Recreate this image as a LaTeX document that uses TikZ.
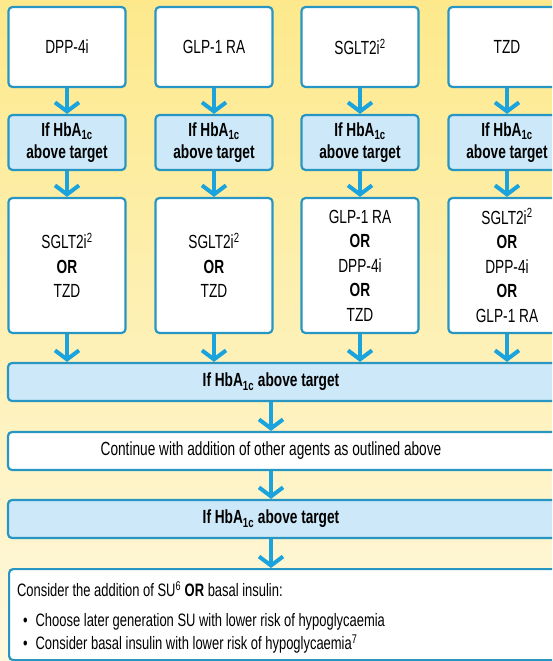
\documentclass[tikz,border=0pt]{standalone}
\usepackage{fontspec}
\setmainfont{Liberation Sans}[FakeStretch=0.72]
\usepackage{tikz}
\usetikzlibrary{arrows.meta}
\definecolor{bgtop}{RGB}{253,233,140}
\definecolor{bgmid}{RGB}{254,244,200}
\definecolor{bgbot}{RGB}{254,248,222}
\definecolor{boxline}{RGB}{40,150,195}
\definecolor{askblock}{RGB}{205,232,248}
\definecolor{flowarrow}{RGB}{27,163,222}

\begin{document}
\begin{tikzpicture}[x=1pt, y=-1pt,
	drugbox/.style={draw=boxline, line width=2.2pt, rounded corners=4pt, fill=white,
		minimum width=\cw, inner sep=0pt, align=center,
		font=\fontsize{19}{24.5}\selectfont},
	askbox/.style={drugbox, fill=askblock, font=\bfseries\fontsize{19}{22}\selectfont},
	flow/.style={draw=flowarrow, line width=4pt, -{Straight Barb[length=9pt, width=24pt]}}]
			\def\cw{117}
			\def\ww{558}

			% page and background
			\useasboundingbox (0,0) rectangle (552,661);
			\clip (0,0) rectangle (552,661);
			\shade[top color=bgtop, middle color=bgmid, bottom color=bgbot] (0,0) rectangle (552,661);

			% First added agent
			\node[drugbox, minimum height=80] (d1) at (67,  47) {DPP-4i};
			\node[drugbox, minimum height=80] (d2) at (214, 47) {GLP-1 RA};
			\node[drugbox, minimum height=80] (d3) at (360, 47) {SGLT2i\textsuperscript{2}};
			\node[drugbox, minimum height=80] (d4) at (507, 47) {TZD};

			% Check of HbA1c
			\node[askbox, minimum height=55] (h1) at (67,  142.5) {If HbA\textsubscript{1c}\\above target};
			\node[askbox, minimum height=55] (h2) at (214, 142.5) {If HbA\textsubscript{1c}\\above target};
			\node[askbox, minimum height=55] (h3) at (360, 142.5) {If HbA\textsubscript{1c}\\above target};
			\node[askbox, minimum height=55] (h4) at (507, 142.5) {If HbA\textsubscript{1c}\\above target};

			% Second added agent
			\node[drugbox, minimum height=135] (r1) at (67,  265.5) {SGLT2i\textsuperscript{2}\\\textbf{OR}\\TZD};
			\node[drugbox, minimum height=135] (r2) at (214, 265.5) {SGLT2i\textsuperscript{2}\\\textbf{OR}\\TZD};
			\node[drugbox, minimum height=135] (r3) at (360, 265.5) {GLP-1 RA\\\textbf{OR}\\DPP-4i\\\textbf{OR}\\TZD};
			\node[drugbox, minimum height=135] (r4) at (507, 265.5) {SGLT2i\textsuperscript{2}\\\textbf{OR}\\DPP-4i\\\textbf{OR}\\GLP-1 RA};

			% Full width rows
			\node[askbox, minimum width=\ww, minimum height=38,
				label={[name=w1t, xshift=-16pt, font=\bfseries\fontsize{19}{22}\selectfont]center:If HbA\textsubscript{1c} above target}]
				(w1) at (287, 382) {};
			\node[drugbox, minimum width=\ww, minimum height=38,
				label={[name=c1t, xshift=-16pt, font=\fontsize{19}{22}\selectfont]center:Continue with addition of other agents as outlined above}]
				(c1) at (287, 451) {};
			\node[askbox, minimum width=\ww, minimum height=38,
				label={[name=w2t, xshift=-16pt, font=\bfseries\fontsize{19}{22}\selectfont]center:If HbA\textsubscript{1c} above target}]
				(w2) at (287, 519) {};
			\node[drugbox, anchor=north west, minimum width=\ww, minimum height=91,
				text width=542, inner xsep=8pt, align=flush left, font=\fontsize{18}{23}\selectfont]
				(f1) at (8, 568) {\rule{0pt}{21pt}Consider the addition of SU\textsuperscript{6} \textbf{OR} basal insulin:\\[7pt]
				\hspace*{6pt}\textbullet\hspace{8pt}Choose later generation SU with lower risk of hypoglycaemia\\
				\hspace*{6pt}\textbullet\hspace{8pt}Consider basal insulin with lower risk of hypoglycaemia\textsuperscript{7}};

			% Arrows
			\draw[flow] (d1) -- (h1);
			\draw[flow] (d2) -- (h2);
			\draw[flow] (d3) -- (h3);
			\draw[flow] (d4) -- (h4);
			\draw[flow] (h1) -- (r1);
			\draw[flow] (h2) -- (r2);
			\draw[flow] (h3) -- (r3);
			\draw[flow] (h4) -- (r4);
			\draw[flow] (r1) -- (r1 |- w1.north);
			\draw[flow] (r2) -- (r2 |- w1.north);
			\draw[flow] (r3) -- (r3 |- w1.north);
			\draw[flow] (r4) -- (r4 |- w1.north);
			\draw[flow] (w1t |- w1.south) -- (w1t |- c1.north);
			\draw[flow] (w1t |- c1.south) -- (w1t |- w2.north);
			\draw[flow] (w1t |- w2.south) -- (w1t |- f1.north);
		\end{tikzpicture}
\end{document}
